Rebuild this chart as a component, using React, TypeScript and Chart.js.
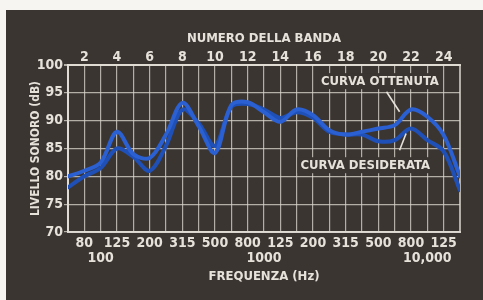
import React, { useEffect, useRef } from 'react';
import { Chart, registerables } from 'chart.js';

Chart.register(...registerables);

// ---- data ----
const BANDS = [1, 2, 3, 4, 5, 6, 7, 8, 9, 10, 11, 12, 13, 14, 15, 16, 17, 18, 19, 20, 21, 22, 23, 24, 25];
const BAND_LABELS = ['', '2', '', '4', '', '6', '', '8', '', '10', '', '12', '', '14', '', '16', '', '18', '', '20', '', '22', '', '24', ''];
const FREQ_LINE1 = ['', '80', '', '125', '', '200', '', '315', '', '500', '', '800', '', '125', '', '200', '', '315', '', '500', '', '800', '', '125', ''];
const FREQ_LINE2 = ['', '', '100', '', '', '', '', '', '', '', '', '', '1000', '', '', '', '', '', '', '', '', '', '10,000', '', ''];
const Y_TICKS = [70, 75, 80, 85, 90, 95, 100];

const OTTENUTA = [80, 81, 82.5, 88, 84, 83.3, 87.5, 93.2, 89, 84.2, 92.8, 93.3, 91.5, 89.8, 92, 91, 88.3, 87.5, 88, 88.6, 89.2, 92, 90.7, 87.4, 80];
const DESIDERATA = [78, 80, 81.5, 85, 83.5, 81, 85.5, 92, 89.5, 85.5, 92.5, 93, 92, 90.5, 91.5, 90.5, 88, 87.5, 87.5, 86.3, 86.5, 88.6, 86.5, 84.5, 77.5];

// annotation labels (data units: band, dB)
const NOTE_TEXT = ['CURVA OTTENUTA', 'CURVA DESIDERATA'];
const NOTE_BAND = [20.1, 19.2];
const NOTE_DB = [97.1, 82.0];
const POINTER_FROM_BAND = [20.5, 21.3];
const POINTER_FROM_DB = [95.2, 84.7];
const POINTER_TO_BAND = [21.3, 21.7];
const POINTER_TO_DB = [91.6, 87.7];

// ---- styles ----
const PANEL = '#3b3532';
const INK = '#e6e2da';
const GRID = 'rgba(220,215,205,0.75)';
const BORDER = 'rgba(228,224,216,0.92)';
const FONT = "'DejaVu Sans Condensed', 'DejaVu Sans', sans-serif";

const notesPlugin = {
  id: 'curveNotes',
  afterDatasetsDraw(chart: any) {
    const { ctx } = chart;
    const x = chart.scales.x;
    const y = chart.scales.y;
    ctx.save();
    ctx.font = `bold 13px ${FONT}`;
    ctx.textAlign = 'center';
    ctx.textBaseline = 'middle';
    NOTE_TEXT.forEach((t, i) => {
      const px = x.getPixelForValue(NOTE_BAND[i]);
      const py = y.getPixelForValue(NOTE_DB[i]);
      const w = ctx.measureText(t).width;
      ctx.fillStyle = PANEL;
      ctx.fillRect(px - w / 2 - 3, py - 8, w + 6, 16);
      ctx.fillStyle = INK;
      ctx.fillText(t, px, py);
      ctx.strokeStyle = INK;
      ctx.lineWidth = 1.6;
      ctx.beginPath();
      ctx.moveTo(x.getPixelForValue(POINTER_FROM_BAND[i]), y.getPixelForValue(POINTER_FROM_DB[i]));
      ctx.lineTo(x.getPixelForValue(POINTER_TO_BAND[i]), y.getPixelForValue(POINTER_TO_DB[i]));
      ctx.stroke();
    });
    ctx.restore();
  },
};

export default function App() {
  const ref = useRef<HTMLCanvasElement | null>(null);

  useEffect(() => {
    if (!ref.current) return;
    const bandTicks = (s: any) => {
      s.ticks = BANDS.map((v) => ({ value: v }));
    };
    const chart = new Chart(ref.current, {
      type: 'line',
      data: {
        datasets: [
          {
            label: 'Curva ottenuta',
            data: BANDS.map((b, i) => ({ x: b, y: OTTENUTA[i] })),
            borderColor: '#2b60d2',
            borderWidth: 4,
            pointRadius: 0,
            tension: 0.33,
            borderCapStyle: 'round',
            borderJoinStyle: 'round',
          },
          {
            label: 'Curva desiderata',
            data: BANDS.map((b, i) => ({ x: b, y: DESIDERATA[i] })),
            borderColor: '#1f50b8',
            borderWidth: 4,
            pointRadius: 0,
            tension: 0.33,
            borderCapStyle: 'round',
            borderJoinStyle: 'round',
          },
        ],
      },
      options: {
        responsive: false,
        animation: false,
        layout: { padding: { left: 0, right: 23, top: 0, bottom: 0 } },
        plugins: { legend: { display: false }, tooltip: { enabled: false }, title: { display: false } },
        scales: {
          x: {
            type: 'linear',
            position: 'bottom',
            min: 1,
            max: 25,
            afterBuildTicks: bandTicks,
            afterFit: (s: any) => {
              s.height = 68;
            },
            ticks: {
              autoSkip: false,
              maxRotation: 0,
              padding: 4,
              color: INK,
              font: { family: FONT, size: 14, weight: 'bold', lineHeight: 1.05 },
              callback: (v: any) => {
                const i = BANDS.indexOf(Number(v));
                return [FREQ_LINE1[i] ?? '', FREQ_LINE2[i] ?? ''];
              },
            },
            grid: {
              color: GRID,
              lineWidth: (c: any) => (c.tick && (c.tick.value === 25 || c.tick.value === 1) ? 2 : 1.2),
              drawTicks: false,
            },
            border: { color: BORDER, width: 2 },
            title: {
              display: true,
              text: 'FREQUENZA (Hz)',
              color: INK,
              font: { family: FONT, size: 13, weight: 'bold' },
              padding: { top: 0, bottom: 16 },
            },
          },
          xTop: {
            type: 'linear',
            position: 'top',
            min: 1,
            max: 25,
            afterBuildTicks: bandTicks,
            afterFit: (s: any) => {
              s.height = 65;
            },
            ticks: {
              autoSkip: false,
              maxRotation: 0,
              padding: 1,
              color: INK,
              font: { family: FONT, size: 14, weight: 'bold', lineHeight: 1.0 },
              callback: (v: any) => BAND_LABELS[BANDS.indexOf(Number(v))] ?? '',
            },
            grid: { display: false, drawTicks: false },
            border: { display: true, color: BORDER, width: 2 },
            title: {
              display: true,
              text: 'NUMERO DELLA BANDA',
              color: INK,
              font: { family: FONT, size: 13, weight: 'bold' },
              padding: { top: 31, bottom: 0 },
            },
          },
          y: {
            type: 'linear',
            min: 70,
            max: 100,
            afterBuildTicks: (s: any) => {
              s.ticks = Y_TICKS.map((v) => ({ value: v }));
            },
            afterFit: (s: any) => {
              s.width = 68;
            },
            ticks: {
              padding: 1,
              color: INK,
              font: { family: FONT, size: 14, weight: 'bold' },
            },
            grid: {
              color: GRID,
              lineWidth: (c: any) => (c.tick && c.tick.value === 100 ? 2 : 1.2),
              drawTicks: true,
              tickLength: 4,
            },
            border: { color: BORDER, width: 2 },
            title: {
              display: true,
              text: 'LIVELLO SONORO (dB)',
              color: INK,
              font: { family: FONT, size: 12, weight: 'bold' },
              padding: { top: 29, bottom: 0 },
            },
          },
        },
      },
      plugins: [notesPlugin],
    } as any);
    return () => chart.destroy();
  }, []);

  return (
    <div style={{ position: 'fixed', left: 0, top: 0, width: 483, height: 300, background: '#f6f5f2', overflow: 'hidden' }}>
      <div style={{ position: 'absolute', left: 6, top: 10, right: 0, bottom: 0, background: PANEL }} />
      <canvas ref={ref} width={483} height={300} style={{ position: 'absolute', left: 0, top: 0, width: 483, height: 300 }} />
    </div>
  );
}
